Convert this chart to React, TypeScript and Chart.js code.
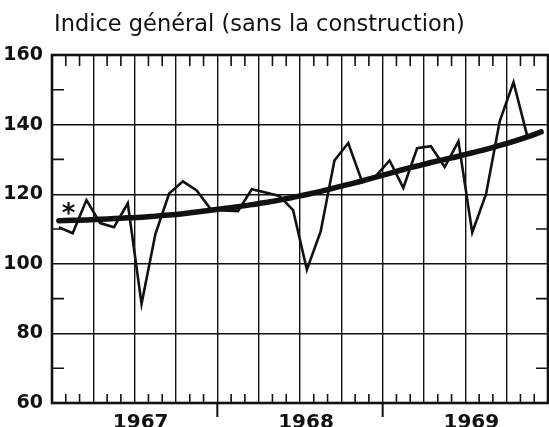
import React, { useEffect, useRef } from "react";
import { Chart, registerables } from "chart.js";

Chart.register(...registerables);

// ---- data ----
const TITLE = "Indice général (sans la construction)";
const YEARS = ["1967", "1968", "1969"];
const Y_MIN = 60;
const Y_MAX = 160;
const Y_STEP = 20;
const Y_MINOR_TICKS = [70, 90, 110, 130, 150];

// monthly index, Jan 1967 .. Dec 1969
const MONTHLY_1967 = [110.5, 108.8, 118.3, 111.7, 110.5, 117.4, 88.5, 108.5, 120.2, 123.7, 121.1, 115.8];
const MONTHLY_1968 = [115.3, 115.1, 121.4, 120.5, 119.5, 115.4, 98.3, 109.3, 129.7, 134.7, 123.7, 125.2];
const MONTHLY_1969 = [129.7, 121.8, 133.2, 133.8, 127.8, 135.2, 109.0, 120.0, 141.0, 152.2, 136.6, null];

// smoothed trend, Jan 1967 .. Dec 1969
const TREND_1967 = [112.4, 112.5, 112.6, 112.8, 113.0, 113.2, 113.4, 113.7, 114.0, 114.4, 114.9, 115.4];
const TREND_1968 = [115.9, 116.4, 117.0, 117.6, 118.3, 119.1, 119.9, 120.8, 121.8, 122.8, 123.8, 124.9];
const TREND_1969 = [126.0, 127.1, 128.1, 129.1, 130.0, 130.9, 131.9, 132.9, 134.0, 135.2, 136.5, 137.9];

const ASTERISK = { month: 1.2, value: 115.8, text: "*" };

const INK = "#111111";

const monthly = [...MONTHLY_1967, ...MONTHLY_1968, ...MONTHLY_1969];
const trend = [...TREND_1967, ...TREND_1968, ...TREND_1969];
const N_MONTHS = monthly.length;

const decorPlugin = {
  id: "decor",
  afterDraw(chart: any) {
    const { ctx, chartArea: a, scales } = chart;
    const x = scales.x;
    const y = scales.y;
    ctx.save();
    ctx.strokeStyle = INK;
    ctx.fillStyle = INK;
    ctx.lineCap = "butt";
    // month ticks, top and bottom, pointing inward
    ctx.lineWidth = 1.6;
    ctx.beginPath();
    for (let m = 1; m < N_MONTHS; m++) {
      if (m % 3 === 0) continue;
      const px = x.getPixelForValue(m);
      ctx.moveTo(px, a.bottom);
      ctx.lineTo(px, a.bottom - 9);
      ctx.moveTo(px, a.top);
      ctx.lineTo(px, a.top + 11);
    }
    // half-step ticks on both vertical sides
    for (const v of Y_MINOR_TICKS) {
      const py = y.getPixelForValue(v);
      ctx.moveTo(a.left, py);
      ctx.lineTo(a.left + 12, py);
      ctx.moveTo(a.right, py);
      ctx.lineTo(a.right - 12, py);
    }
    ctx.stroke();
    // year separators below the axis
    ctx.lineWidth = 2;
    ctx.beginPath();
    for (let yr = 1; yr < YEARS.length; yr++) {
      const px = x.getPixelForValue(yr * 12);
      ctx.moveTo(px, a.bottom);
      ctx.lineTo(px, a.bottom + 14);
    }
    ctx.stroke();
    // frame
    ctx.lineWidth = 2.6;
    ctx.strokeRect(a.left, a.top, a.right - a.left, a.bottom - a.top);
    // title
    ctx.font = '22.5px "DejaVu Sans"';
    ctx.textAlign = "left";
    ctx.textBaseline = "alphabetic";
    ctx.fillText(TITLE, a.left + 2, 31);
    // asterisk
    ctx.font = 'bold 26px "DejaVu Sans"';
    const m = ctx.measureText(ASTERISK.text);
    const ax = x.getPixelForValue(ASTERISK.month);
    const ay = y.getPixelForValue(ASTERISK.value);
    const mid = (m.actualBoundingBoxAscent - m.actualBoundingBoxDescent) / 2;
    ctx.textAlign = "center";
    ctx.fillText(ASTERISK.text, ax, ay + mid);
    ctx.restore();
  },
};

export default function App() {
  const ref = useRef<HTMLCanvasElement | null>(null);

  useEffect(() => {
    if (!ref.current) return;
    const chart = new Chart(ref.current, {
      type: "line",
      data: {
        datasets: [
          {
            label: "Indice mensuel",
            data: monthly.map((v, i) => ({ x: i + 0.5, y: v })),
            borderColor: INK,
            borderWidth: 2.6,
            pointRadius: 0,
            tension: 0,
            spanGaps: false,
          },
          {
            label: "Tendance",
            data: trend.map((v, i) => ({ x: i + 0.5, y: v })),
            borderColor: INK,
            borderWidth: 5.5,
            pointRadius: 0,
            cubicInterpolationMode: "monotone",
            borderCapStyle: "round",
          },
        ],
      } as any,
      options: {
        animation: false,
        responsive: false,
        parsing: false as any,
        layout: { padding: { top: 55, right: 1, left: 0, bottom: 0 } },
        plugins: {
          legend: { display: false },
          tooltip: { enabled: false },
          title: { display: false },
        },
        scales: {
          x: {
            type: "linear",
            min: 0,
            max: N_MONTHS,
            afterBuildTicks: (s: any) => {
              const t = [];
              for (let v = 0; v <= N_MONTHS; v += 3) t.push({ value: v });
              s.ticks = t;
            },
            afterFit: (s: any) => {
              s.height = 24;
              s.paddingLeft = 0;
              s.paddingRight = 0;
            },
            border: { display: false },
            grid: {
              color: INK,
              lineWidth: 1.4,
              drawTicks: false,
            },
            ticks: {
              autoSkip: false,
              maxRotation: 0,
              padding: 8,
              labelOffset: 6,
              color: INK,
              font: { family: "DejaVu Sans", size: 20, weight: "bold" },
              callback: (v: any) => (v % 12 === 6 ? YEARS[(v - 6) / 12] : ""),
            },
          },
          y: {
            min: Y_MIN,
            max: Y_MAX,
            afterFit: (s: any) => {
              s.width = 52;
            },
            border: { display: false },
            grid: {
              color: INK,
              lineWidth: 1.4,
              drawTicks: false,
            },
            ticks: {
              stepSize: Y_STEP,
              padding: 9,
              color: INK,
              font: { family: "DejaVu Sans", size: 19, weight: "bold" },
            },
          },
        },
      },
      plugins: [decorPlugin],
    });
    return () => chart.destroy();
  }, []);

  return (
    <div style={{ position: "absolute", left: 0, top: 0, width: 549, height: 427, background: "#fff" }}>
      <canvas ref={ref} width={549} height={427} style={{ display: "block" }} />
    </div>
  );
}
